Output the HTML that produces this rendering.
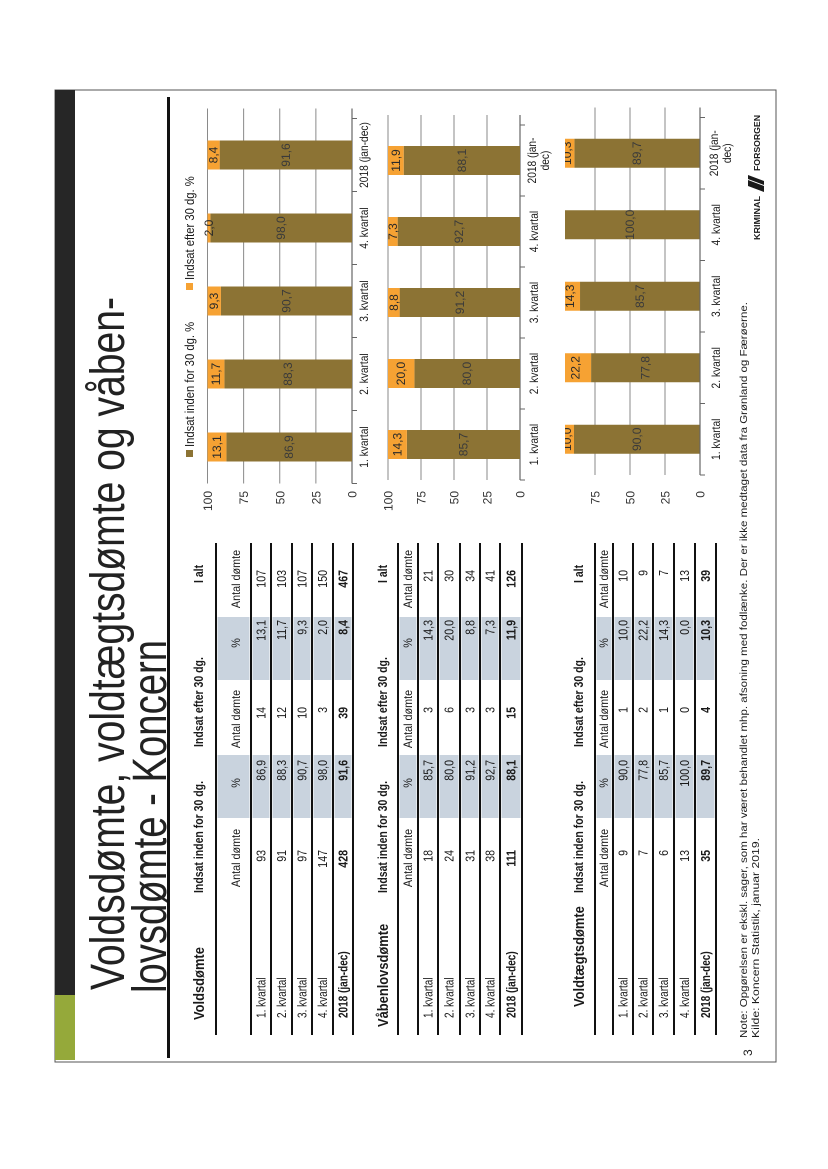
<!DOCTYPE html>
<html><head><meta charset="utf-8">
<style>
html,body{margin:0;padding:0;background:#fff;width:828px;height:1169px;overflow:hidden;position:relative}
#slide{position:absolute;left:55px;top:1062px;transform-origin:0 0;transform:rotate(-90deg);overflow:visible}
text{font-family:"Liberation Sans",sans-serif;fill:#1a1a1a}
</style></head>
<body>
<svg id="slide" width="975" height="730" viewBox="0 0 975 730" xmlns="http://www.w3.org/2000/svg">
  <rect x="0" y="0" width="972" height="721" fill="none" stroke="#555" stroke-width="1"/>
  <rect x="67" y="0" width="905" height="20" fill="#262626"/>
  <rect x="2" y="0" width="65" height="20" fill="#95a93a"/>
  <text x="72" y="69" font-size="48" textLength="693" lengthAdjust="spacingAndGlyphs" style="fill:#222">Voldsdømte, voldtægtsdømte og våben-</text>
  <text x="69" y="111" font-size="48" textLength="353" lengthAdjust="spacingAndGlyphs" style="fill:#222">lovsdømte - Koncern</text>
  <rect x="4" y="112" width="961" height="3" fill="#111"/>
  <g id="tables"></g>
  <g id="charts"></g>
  <text x="6" y="697" font-size="12">3</text>
  <text x="24" y="692" font-size="10.5" textLength="736" lengthAdjust="spacingAndGlyphs">Note: Opgørelsen er ekskl. sager, som har været behandlet mhp. afsoning med fodlænke. Der er ikke medtaget data fra Grønland og Færøerne.</text>
  <text x="24" y="704" font-size="10.5" textLength="200" lengthAdjust="spacingAndGlyphs">Kilde: Koncern Statistik, januar 2019.</text>
  <g>
    <text x="822" y="705" font-size="8" font-weight="bold" textLength="44" lengthAdjust="spacingAndGlyphs">KRIMINAL</text>
    <polygon points="870,709 876,709 882,693 876,693" fill="#1a1a1a"/>
    <polygon points="877,709 881,709 887,693 883,693" fill="#1a1a1a"/>
    <text x="891" y="705" font-size="8" font-weight="bold" textLength="56" lengthAdjust="spacingAndGlyphs">FORSORGEN</text>
  </g>
</svg>
<script>
const NS = 'http://www.w3.org/2000/svg';
// ---------- table data ----------
const rowLabels = ['1. kvartal','2. kvartal','3. kvartal','4. kvartal','2018 (jan-dec)'];
const t1Titles = ['Voldsdømte','Våbenlovsdømte','Voldtægtsdømte'];
const vInden = [93,91,97,147,428];
const vIndenPct = ['86,9','88,3','90,7','98,0','91,6'];
const vEfter = [14,12,10,3,39];
const vEfterPct = ['13,1','11,7','9,3','2,0','8,4'];
const vTotal = [107,103,107,150,467];
const wInden = [18,24,31,38,111];
const wIndenPct = ['85,7','80,0','91,2','92,7','88,1'];
const wEfter = [3,6,3,3,15];
const wEfterPct = ['14,3','20,0','8,8','7,3','11,9'];
const wTotal = [21,30,34,41,126];
const rInden = [9,7,6,13,35];
const rIndenPct = ['90,0','77,8','85,7','100,0','89,7'];
const rEfter = [1,2,1,0,4];
const rEfterPct = ['10,0','22,2','14,3','0,0','10,3'];
const rTotal = [10,9,7,13,39];

// ---------- chart data ----------
const categories = ['1. kvartal','2. kvartal','3. kvartal','4. kvartal','2018 (jan-dec)'];
const valueTicks = [0,25,50,75,100];
const c1Inden = [86.9,88.3,90.7,98.0,91.6];
const c1Efter = [13.1,11.7,9.3,2.0,8.4];
const c2Inden = [85.7,80.0,91.2,92.7,88.1];
const c2Efter = [14.3,20.0,8.8,7.3,11.9];
const c3Inden = [90.0,77.8,85.7,100.0,89.7];
const c3Efter = [10.0,22.2,14.3,0.0,10.3];
const legendLabels = ['Indsat inden for 30 dg. %','Indsat efter 30 dg. %'];

function mk(tag, attrs, parent, txt){
  const e = document.createElementNS(NS, tag);
  for (const k in attrs) e.setAttribute(k, attrs[k]);
  if (txt !== undefined) e.textContent = txt;
  parent.appendChild(e);
  return e;
}
function condense(t, f){
  const w = t.getComputedTextLength();
  if (w > 0){ t.setAttribute('textLength', (w*f).toFixed(1)); t.setAttribute('lengthAdjust','spacingAndGlyphs'); }
}

// ---------- tables ----------
const tablesG = document.getElementById('tables');
const tableDefs = [
  {title:t1Titles[0], titleU:42, titleV:149, lineA:161, sub:181, lineB:196, rows:[216,237,257,278,298], data:[vInden,vIndenPct,vEfter,vEfterPct,vTotal]},
  {title:t1Titles[1], titleU:35, titleV:333, lineA:343, sub:353, lineB:363, rows:[383,405,425,445,467], data:[wInden,wIndenPct,wEfter,wEfterPct,wTotal]},
  {title:t1Titles[2], titleU:55, titleV:529, lineA:540, sub:549, lineB:558, rows:[578,598,619,640,661], data:[rInden,rIndenPct,rEfter,rEfterPct,rTotal]}
];
const colEnds = [212,302,355,442,492];
const colHeadCenters = [204,279,343,419,483];
const shadeCols = [[244,307],[382,445]];
const groupHeads = [['Indsat inden for 30 dg.',169],['Indsat efter 30 dg.',315],['I alt',479]];
const tableNames = ['voldsdomte','vabenlov','voldtaegt'];
tableDefs.forEach((T, ti) => {
  const g = mk('g', {}, tablesG);
  
  
  // shading
  const bounds = [T.lineA, T.lineB].concat(T.rows);
  shadeCols.forEach(sc => {
    for (let i = 0; i < bounds.length-1; i++){
      const r = mk('rect', {x:sc[0], y:bounds[i]+1.5, width:sc[1]-sc[0], height:bounds[i+1]-bounds[i]-3, fill:'#c9d3de'}, g);
      
      
    }
  });
  // lines
  bounds.forEach((lv, i) => {
    const l = mk('rect', {x:27, y:lv-1, width:492, height:2, fill:'#111'}, g);
    
    
  });
  const tt = mk('text', {x:T.titleU, y:T.titleV, 'font-size':15, 'font-weight':'bold'}, g, T.title);
  
  
  condense(tt, 0.86);
  groupHeads.forEach(gh => {
    const h = mk('text', {x:gh[1], y:T.titleV-1, 'font-size':12.5, 'font-weight':'bold'}, g, gh[0]);
    
    
    condense(h, 0.84);
  });
  colHeadCenters.forEach((c, ci) => {
    const s = mk('text', {x:c, y:T.sub+4, 'font-size':12, 'text-anchor':'middle'}, g, (ci%2===1)?'%':'Antal dømte');
    
    
    condense(s, 0.9);
  });
  const all = [T.lineB].concat(T.rows);
  rowLabels.forEach((lab, ri) => {
    const cy = (all[ri] + all[ri+1]) / 2 + 4.5;
    const bold = ri === 4 ? 'bold' : 'normal';
    const lt = mk('text', {x:44, y:cy, 'font-size':12.5, 'font-weight':bold}, g, lab);
    
    
    condense(lt, 0.8);
    T.data.forEach((col, ci) => {
      const vt = mk('text', {x:colEnds[ci], y:cy, 'font-size':12.5, 'font-weight':bold, 'text-anchor':'end'}, g, String(col[ri]));
      
      
      condense(vt, 0.85);
    });
  });
});

// ---------- charts ----------
const chartsG = document.getElementById('charts');
const BROWN = '#8c7334', ORANGE = '#f6a233';
const fmt = v => v.toFixed(1).replace('.', ',');
const chartDefs = [
  {name:'voldsdomte', inden:c1Inden, efter:c1Efter, v0:297, v100:152.5, u0:578.5, step:73, catV:313, twoLine:false, clipV:null, show100:true},
  {name:'vabenlov', inden:c2Inden, efter:c2Efter, v0:465, v100:333, u0:582, step:71, catV:483, twoLine:true, clipV:null, show100:true},
  {name:'voldtaegt', inden:c3Inden, efter:c3Efter, v0:645, v100:505, u0:587, step:71.5, catV:665, twoLine:true, clipV:510, show100:false}
];
chartDefs.forEach((C, idx) => {
  const g = mk('g', {}, chartsG);
  
  
  const vScale = val => C.v0 + (C.v100 - C.v0) * val / 100;
  const uBand = i => C.u0 + C.step * i;
  const uCenter = i => C.u0 + C.step * (i + 0.5);
  const uEnd = C.u0 + C.step * categories.length + 10;
  let target = g;
  if (C.clipV !== null){
    const cp = mk('clipPath', {id:'clip'+idx}, g);
    mk('rect', {x:0, y:C.clipV, width:975, height:730}, cp);
    target = mk('g', {'clip-path':'url(#clip'+idx+')'}, g);
    
    
  }
  // gridlines + tick labels
  valueTicks.forEach(t => {
    if (t === 100 && !C.show100) return;
    const v = vScale(t);
    if (t > 0){
      const gl = mk('line', {x1:C.u0, x2:uEnd, y1:v, y2:v, stroke:'#8a8a8a', 'stroke-width':1}, target);
      
      
    }
    const tl = mk('text', {x:571, y:v+4.5, 'font-size':12, 'text-anchor':'end', style:'fill:#333'}, g, String(t));
    
    
  });
  // axis
  const ax = mk('line', {x1:C.u0, x2:uEnd, y1:C.v0, y2:C.v0, stroke:'#666', 'stroke-width':1.2}, g);
  
  
  for (let i = 0; i <= categories.length; i++){
    const tk = mk('line', {x1:uBand(i), x2:uBand(i), y1:C.v0, y2:C.v0+5, stroke:'#666', 'stroke-width':1}, g);
    
    
  }
  // bars
  categories.forEach((cat, i) => {
    const uc = uCenter(i), bw = 29;
    const vIn = vScale(C.inden[i]), vTop = vScale(C.inden[i] + C.efter[i]);
    const b1 = mk('rect', {x:uc-bw/2, y:vIn, width:bw, height:C.v0-vIn, fill:BROWN}, target);
    
    
    const b2 = mk('rect', {x:uc-bw/2, y:vTop, width:bw, height:vIn-vTop, fill:ORANGE}, target);
    
    
    const l1 = mk('text', {x:uc, y:(vIn+C.v0)/2+4, 'font-size':12, 'text-anchor':'middle', style:'fill:#3a3a3a'}, target, fmt(C.inden[i]));
    
    
    if (C.efter[i] > 0){
      const l2 = mk('text', {x:uc, y:(vIn+vTop)/2+4, 'font-size':12, 'text-anchor':'middle', style:'fill:#2a2a2a'}, target, fmt(C.efter[i]));
      
      
    }
    // category label
    if (C.twoLine && cat.length > 10){
      const a = mk('text', {x:uc, y:C.catV-2, 'font-size':12, 'text-anchor':'middle'}, g, cat.slice(0, 10));
      
      
      condense(a, 0.85);
      const b = mk('text', {x:uc, y:C.catV+11, 'font-size':12, 'text-anchor':'middle'}, g, cat.slice(10));
      
      
      condense(b, 0.85);
    } else {
      const a = mk('text', {x:uc, y:C.catV, 'font-size':12, 'text-anchor':'middle'}, g, cat);
      
      
      condense(a, 0.85);
    }
  });
});
// legend
const lg = mk('g', {}, chartsG);


[[605, BROWN],[772, ORANGE]].forEach((p, i) => {
  const sq = mk('rect', {x:p[0], y:131, width:7, height:7, fill:p[1]}, lg);
  
  
  const lt = mk('text', {x:p[0]+10, y:139, 'font-size':12.5}, lg, legendLabels[i]);
  
  
  condense(lt, 0.9);
});
</script>
</body></html>
